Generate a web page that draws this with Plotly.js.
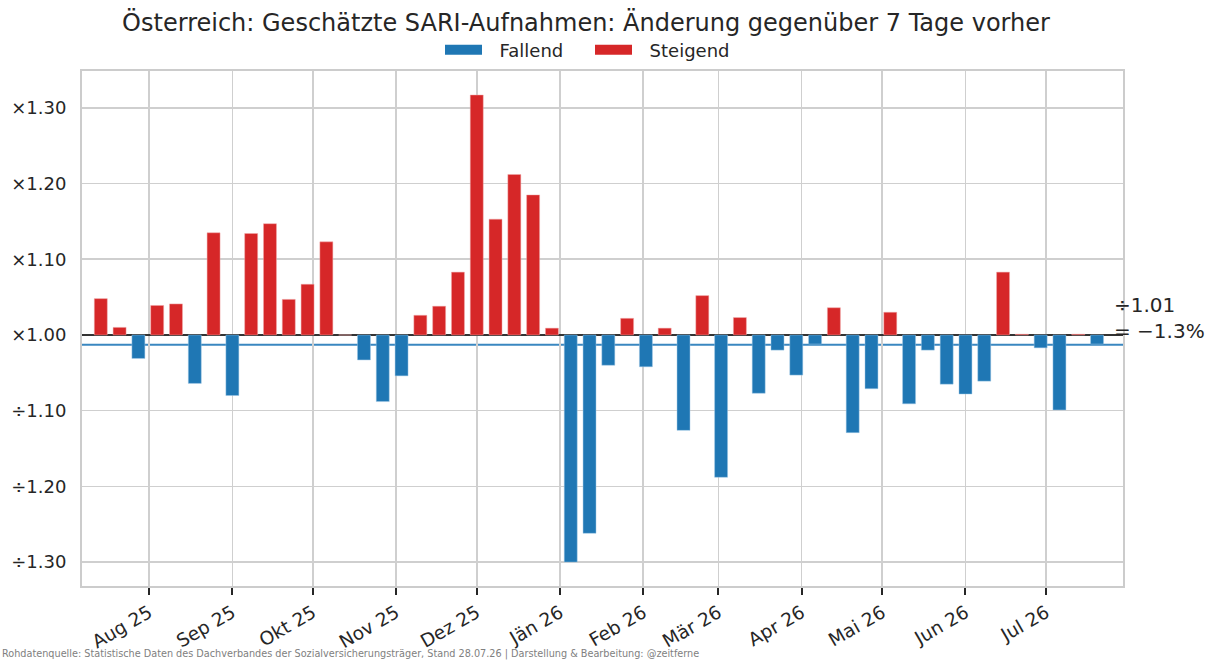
<!DOCTYPE html>
<html>
<head>
<meta charset="utf-8">
<script src="https://cdn.plot.ly/plotly-3.0.1.min.js"></script>
<style>
  html, body { margin: 0; padding: 0; background: #ffffff; }
  #chart { width: 1216px; height: 661px; }
</style>
</head>
<body>
<div id="chart"></div>
<script>
// ---- data ----
const weeks = [
  '2025-07-14','2025-07-21','2025-07-28','2025-08-04','2025-08-11','2025-08-18','2025-08-25',
  '2025-09-01','2025-09-08','2025-09-15','2025-09-22','2025-09-29','2025-10-06','2025-10-13',
  '2025-10-20','2025-10-27','2025-11-03','2025-11-10','2025-11-17','2025-11-24','2025-12-01',
  '2025-12-08','2025-12-15','2025-12-22','2025-12-29','2026-01-05','2026-01-12','2026-01-19',
  '2026-01-26','2026-02-02','2026-02-09','2026-02-16','2026-02-23','2026-03-02','2026-03-09',
  '2026-03-16','2026-03-23','2026-03-30','2026-04-06','2026-04-13','2026-04-20','2026-04-27',
  '2026-05-04','2026-05-11','2026-05-18','2026-05-25','2026-06-01','2026-06-08','2026-06-15',
  '2026-06-22','2026-06-29','2026-07-06','2026-07-13','2026-07-20'
];
// signed change: +0.10 means ×1.10, -0.10 means ÷1.10
const change = [
   0.048,  0.010, -0.031,  0.039,  0.041, -0.064,  0.135,
  -0.080,  0.134,  0.147,  0.047,  0.067,  0.123,  0.000,
  -0.033, -0.088, -0.054,  0.026,  0.038,  0.083,  0.317,
   0.153,  0.212,  0.185,  0.009, -0.300, -0.262, -0.040,
   0.022, -0.042,  0.009, -0.126,  0.052, -0.188,  0.023,
  -0.077, -0.020, -0.053, -0.012,  0.036, -0.129, -0.071,
   0.030, -0.091, -0.020, -0.065, -0.078, -0.061,  0.083,
   0.001, -0.017, -0.099,  0.001, -0.012
];
const meanChange = -0.013;          // ÷1.01 = −1.3 %
const meanLabel = '÷1.01<br>= −1.3%';

const monthTicks = ['2025-08-01','2025-09-01','2025-10-01','2025-11-01','2025-12-01','2026-01-01',
                    '2026-02-01','2026-03-01','2026-04-01','2026-05-01','2026-06-01','2026-07-01'];
const monthLabels = ['Aug 25','Sep 25','Okt 25','Nov 25','Dez 25','Jän 26',
                     'Feb 26','Mär 26','Apr 26','Mai 26','Jun 26','Jul 26'];
const yTickVals = [-0.3, -0.2, -0.1, 0, 0.1, 0.2, 0.3];
const yTickText = ['÷1.30', '÷1.20', '÷1.10', '×1.00', '×1.10', '×1.20', '×1.30'];
const seriesNames = ['Fallend', 'Steigend'];

// ---- styling ----
const BLUE = '#1f77b4', RED = '#d62728', TXT = '#262626', GRID = '#cfcfcf';
const FONT = 'DejaVu Sans, Verdana, sans-serif';
const barWidth = 7 * 0.69 * 86400000;
const legendPad = '\u2002\u2009';   // visual gap between swatch and label

const falling = change.map(v => v < 0 ? v : null);
const rising  = change.map(v => v >= 0 ? v : null);

const traces = [
  { type: 'bar', x: weeks, y: falling, width: barWidth, marker: { color: BLUE, line: { color: 'rgba(160,200,230,0.8)', width: 0.6 } },
    name: seriesNames[0], showlegend: false, hoverinfo: 'x+y' },
  { type: 'bar', x: weeks, y: rising, width: barWidth, marker: { color: RED, line: { color: 'rgba(240,170,170,0.8)', width: 0.6 } },
    name: seriesNames[1], showlegend: false, hoverinfo: 'x+y' },
  // legend entries
  { type: 'scatter', mode: 'lines', x: [null], y: [null], name: legendPad + seriesNames[0], line: { color: BLUE, width: 13 } },
  { type: 'scatter', mode: 'lines', x: [null], y: [null], name: legendPad + seriesNames[1], line: { color: RED, width: 13 } }
];

const layout = {
  width: 1216, height: 661,
  paper_bgcolor: '#ffffff', plot_bgcolor: '#ffffff',
  margin: { l: 82, r: 93, t: 71, b: 75 },
  font: { family: FONT, color: TXT, size: 16 },
  barmode: 'overlay',
  title: {
    text: 'Österreich: Geschätzte SARI-Aufnahmen: Änderung gegenüber 7 Tage vorher',
    font: { family: FONT, size: 24, color: TXT },
    x: 586 / 1216, xanchor: 'center', xref: 'container',
    y: 1 - 23 / 661, yanchor: 'middle', yref: 'container'
  },
  legend: {
    orientation: 'h', x: (590 - 82) / 1041, xanchor: 'center',
    y: 1 + 21 / 515, yanchor: 'middle',
    font: { family: FONT, size: 18, color: TXT },
    itemwidth: 37, entrywidth: 98, entrywidthmode: 'pixels',
    bgcolor: 'rgba(0,0,0,0)', traceorder: 'normal'
  },
  xaxis: {
    type: 'date',
    range: ['2025-07-07', '2026-07-29 16:00'],
    tickvals: monthTicks, ticktext: monthLabels,
    tickangle: -30,
    ticks: 'outside', ticklen: 7, tickwidth: 2, tickcolor: TXT,
    tickfont: { family: FONT, size: 18.5, color: TXT },
    showgrid: true, gridcolor: GRID, gridwidth: 1.6,
    showline: true, linecolor: '#cccccc', linewidth: 2, mirror: true,
    zeroline: false
  },
  yaxis: {
    range: [-0.3316, 0.3487],
    tickvals: yTickVals, ticktext: yTickText,
    ticks: 'outside', ticklen: 10, tickcolor: 'rgba(0,0,0,0)',
    tickfont: { family: FONT, size: 18, color: TXT },
    showgrid: true, gridcolor: GRID, gridwidth: 1.6,
    showline: true, linecolor: '#cccccc', linewidth: 2, mirror: true,
    zeroline: true, zerolinecolor: '#333333', zerolinewidth: 2
  },
  shapes: [
    { type: 'line', xref: 'paper', x0: 0, x1: 1, yref: 'y', y0: meanChange, y1: meanChange,
      line: { color: '#3a87c0', width: 2 }, layer: 'below' }
  ],
  annotations: [
    { xref: 'paper', x: (1112 - 82) / 1041, xanchor: 'left', yref: 'y', y: meanChange, yanchor: 'bottom', yshift: 0,
      text: meanLabel, showarrow: false, align: 'left',
      font: { family: FONT, size: 20, color: TXT } },
    { xref: 'paper', x: -82 / 1041, xanchor: 'left', yref: 'paper', y: -(661 - 586 - 7) / 515, yanchor: 'middle',
      text: 'Rohdatenquelle: Statistische Daten des Dachverbandes der Sozialversicherungsträger, Stand 28.07.26 | Darstellung & Bearbeitung: @zeitferne',
      showarrow: false, align: 'left',
      font: { family: FONT, size: 9.7, color: '#808080' } }
  ]
};

Plotly.newPlot('chart', traces, layout, { displayModeBar: false, staticPlot: true });
</script>
</body>
</html>
